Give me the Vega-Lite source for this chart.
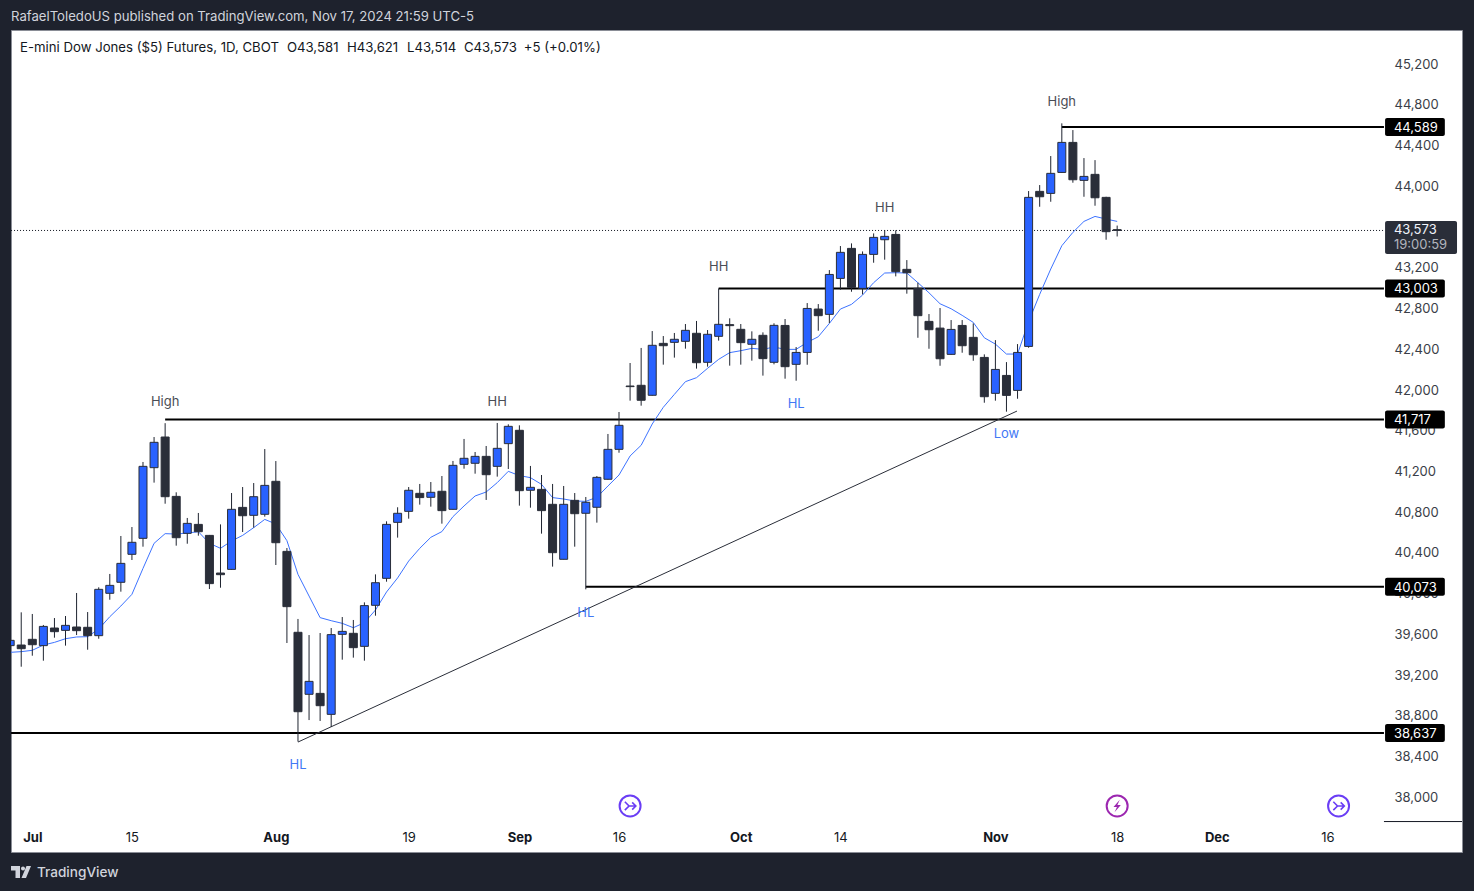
{
"$schema":"https://vega.github.io/schema/vega-lite/v6.json",
"autosize":{"type":"none"},
"padding":{"left":11,"top":30,"right":12,"bottom":39},
"width":1451,"height":822,
"background":"#1e222d",
"view":{"fill":"#ffffff","stroke":"#8a8d96","strokeWidth":1},
"title":{"text":"RafaelToledoUS published on TradingView.com, Nov 17, 2024 21:59 UTC-5","anchor":"start","frame":"group","color":"#d1d4dc","fontSize":13.15,"fontWeight":"normal","font":"Inter","offset":6},
"config":{"font":"Inter","text":{"font":"Inter"},"scale":{"continuousPadding":0}},
"datasets":{
"candles":[
{"bar":-2,"open":39495,"high":39547,"low":39495,"close":39547,"ema":39429},
{"bar":-1,"open":39501,"high":39822,"low":39288,"close":39465,"ema":39436},
{"bar":0,"open":39557,"high":39806,"low":39396,"close":39504,"ema":39449},
{"bar":1,"open":39495,"high":39698,"low":39347,"close":39684,"ema":39501},
{"bar":2,"open":39668,"high":39766,"low":39573,"close":39632,"ema":39527},
{"bar":3,"open":39645,"high":39786,"low":39495,"close":39694,"ema":39563},
{"bar":4,"open":39678,"high":40012,"low":39599,"close":39642,"ema":39580},
{"bar":5,"open":39675,"high":39825,"low":39455,"close":39593,"ema":39583},
{"bar":6,"open":39593,"high":40068,"low":39563,"close":40048,"ema":39658},
{"bar":7,"open":40009,"high":40199,"low":39946,"close":40087,"ema":39779},
{"bar":8,"open":40117,"high":40572,"low":40025,"close":40303,"ema":39884},
{"bar":9,"open":40392,"high":40660,"low":40336,"close":40510,"ema":39999},
{"bar":10,"open":40549,"high":41299,"low":40467,"close":41256,"ema":40254},
{"bar":11,"open":41243,"high":41544,"low":41096,"close":41492,"ema":40500},
{"bar":12,"open":41544,"high":41680,"low":40889,"close":40958,"ema":40595},
{"bar":13,"open":40961,"high":41001,"low":40477,"close":40555,"ema":40591},
{"bar":14,"open":40598,"high":40749,"low":40496,"close":40696,"ema":40601},
{"bar":15,"open":40686,"high":40798,"low":40575,"close":40614,"ema":40614},
{"bar":16,"open":40578,"high":40582,"low":40051,"close":40104,"ema":40500},
{"bar":17,"open":40208,"high":40686,"low":40064,"close":40192,"ema":40451},
{"bar":18,"open":40244,"high":40994,"low":40241,"close":40834,"ema":40523},
{"bar":19,"open":40853,"high":41053,"low":40611,"close":40771,"ema":40578},
{"bar":20,"open":40775,"high":41092,"low":40654,"close":40958,"ema":40654},
{"bar":21,"open":40785,"high":41426,"low":40762,"close":41069,"ema":40735},
{"bar":22,"open":41109,"high":41308,"low":40287,"close":40506,"ema":40690},
{"bar":23,"open":40421,"high":40454,"low":39521,"close":39878,"ema":40526},
{"bar":24,"open":39626,"high":39757,"low":38552,"close":38846,"ema":40195},
{"bar":25,"open":39017,"high":39599,"low":38764,"close":39144,"ema":39982},
{"bar":26,"open":39026,"high":39619,"low":38755,"close":38905,"ema":39770},
{"bar":27,"open":38820,"high":39668,"low":38696,"close":39603,"ema":39740},
{"bar":28,"open":39606,"high":39776,"low":39357,"close":39635,"ema":39714},
{"bar":29,"open":39616,"high":39747,"low":39377,"close":39475,"ema":39671},
{"bar":30,"open":39488,"high":39920,"low":39347,"close":39888,"ema":39721},
{"bar":31,"open":39891,"high":40195,"low":39789,"close":40113,"ema":39845},
{"bar":32,"open":40156,"high":40716,"low":40123,"close":40686,"ema":40022},
{"bar":33,"open":40706,"high":40854,"low":40556,"close":40795,"ema":40160},
{"bar":34,"open":40814,"high":41053,"low":40742,"close":41021,"ema":40326},
{"bar":35,"open":40991,"high":41083,"low":40880,"close":40949,"ema":40451},
{"bar":36,"open":40952,"high":41102,"low":40860,"close":41001,"ema":40559},
{"bar":37,"open":41011,"high":41161,"low":40693,"close":40821,"ema":40615},
{"bar":38,"open":40834,"high":41309,"low":40831,"close":41266,"ema":40762},
{"bar":39,"open":41276,"high":41525,"low":41233,"close":41335,"ema":40867},
{"bar":40,"open":41286,"high":41397,"low":41184,"close":41354,"ema":40965},
{"bar":41,"open":41354,"high":41456,"low":40926,"close":41174,"ema":41004},
{"bar":42,"open":41256,"high":41682,"low":41155,"close":41433,"ema":41096},
{"bar":43,"open":41479,"high":41669,"low":41230,"close":41649,"ema":41207},
{"bar":44,"open":41610,"high":41659,"low":40870,"close":41017,"ema":41165},
{"bar":45,"open":41021,"high":41260,"low":40850,"close":41050,"ema":41145},
{"bar":46,"open":41030,"high":41171,"low":40595,"close":40821,"ema":41079},
{"bar":47,"open":40883,"high":41083,"low":40271,"close":40408,"ema":40949},
{"bar":48,"open":40343,"high":41063,"low":40343,"close":40883,"ema":40935},
{"bar":49,"open":40922,"high":40994,"low":40467,"close":40791,"ema":40916},
{"bar":50,"open":40795,"high":40955,"low":40048,"close":40903,"ema":40912},
{"bar":51,"open":40854,"high":41161,"low":40703,"close":41148,"ema":40952},
{"bar":52,"open":41129,"high":41574,"low":41126,"close":41423,"ema":41063},
{"bar":53,"open":41423,"high":41790,"low":41390,"close":41659,"ema":41171},
{"bar":54,"open":42045,"high":42271,"low":41901,"close":42039,"ema":41358},
{"bar":55,"open":42052,"high":42419,"low":41852,"close":41905,"ema":41463},
{"bar":56,"open":41954,"high":42585,"low":41951,"close":42445,"ema":41672},
{"bar":57,"open":42464,"high":42536,"low":42255,"close":42441,"ema":41836},
{"bar":58,"open":42474,"high":42566,"low":42324,"close":42504,"ema":41963},
{"bar":59,"open":42484,"high":42654,"low":42412,"close":42592,"ema":42088},
{"bar":60,"open":42563,"high":42684,"low":42216,"close":42274,"ema":42127},
{"bar":61,"open":42278,"high":42595,"low":42235,"close":42553,"ema":42219},
{"bar":62,"open":42533,"high":43003,"low":42491,"close":42651,"ema":42307},
{"bar":63,"open":42648,"high":42710,"low":42245,"close":42638,"ema":42373},
{"bar":64,"open":42602,"high":42654,"low":42255,"close":42471,"ema":42392},
{"bar":65,"open":42455,"high":42582,"low":42294,"close":42504,"ema":42415},
{"bar":66,"open":42543,"high":42572,"low":42147,"close":42314,"ema":42405},
{"bar":67,"open":42278,"high":42661,"low":42258,"close":42641,"ema":42428},
{"bar":68,"open":42640,"high":42703,"low":42117,"close":42235,"ema":42405},
{"bar":69,"open":42258,"high":42428,"low":42097,"close":42375,"ema":42405},
{"bar":70,"open":42375,"high":42860,"low":42254,"close":42807,"ema":42474},
{"bar":71,"open":42801,"high":42850,"low":42588,"close":42736,"ema":42529},
{"bar":72,"open":42749,"high":43184,"low":42663,"close":43141,"ema":42660},
{"bar":73,"open":43102,"high":43420,"low":42991,"close":43358,"ema":42801},
{"bar":74,"open":43397,"high":43446,"low":42971,"close":43014,"ema":42847},
{"bar":75,"open":43004,"high":43367,"low":42945,"close":43338,"ema":42938},
{"bar":76,"open":43338,"high":43544,"low":43256,"close":43505,"ema":43060},
{"bar":77,"open":43482,"high":43577,"low":43286,"close":43515,"ema":43155},
{"bar":78,"open":43534,"high":43574,"low":43122,"close":43168,"ema":43158},
{"bar":79,"open":43191,"high":43282,"low":42952,"close":43158,"ema":43155},
{"bar":80,"open":43004,"high":43060,"low":42519,"close":42736,"ema":43060},
{"bar":81,"open":42680,"high":42752,"low":42411,"close":42598,"ema":42961},
{"bar":82,"open":42614,"high":42811,"low":42244,"close":42313,"ema":42853},
{"bar":83,"open":42356,"high":42693,"low":42353,"close":42601,"ema":42804},
{"bar":84,"open":42640,"high":42693,"low":42372,"close":42441,"ema":42739},
{"bar":85,"open":42523,"high":42660,"low":42293,"close":42352,"ema":42670},
{"bar":86,"open":42326,"high":42356,"low":41881,"close":41940,"ema":42519},
{"bar":87,"open":41973,"high":42496,"low":41901,"close":42208,"ema":42457},
{"bar":88,"open":42149,"high":42280,"low":41793,"close":41953,"ema":42359},
{"bar":89,"open":42002,"high":42457,"low":41920,"close":42375,"ema":42359},
{"bar":90,"open":42434,"high":43960,"low":42421,"close":43898,"ema":42677},
{"bar":91,"open":43957,"high":44019,"low":43806,"close":43904,"ema":42945},
{"bar":92,"open":43937,"high":44304,"low":43855,"close":44134,"ema":43194},
{"bar":93,"open":44143,"high":44625,"low":44140,"close":44438,"ema":43423},
{"bar":94,"open":44438,"high":44559,"low":44042,"close":44071,"ema":43554},
{"bar":95,"open":44065,"high":44284,"low":43904,"close":44104,"ema":43662},
{"bar":96,"open":44124,"high":44264,"low":43816,"close":43894,"ema":43711},
{"bar":97,"open":43898,"high":43904,"low":43482,"close":43561,"ema":43685},
{"bar":98,"open":43581,"high":43621,"low":43514,"close":43573,"ema":43662}
],
"levels":[
{"bar":93,"price":44589},
{"bar":62,"price":43003},
{"bar":12,"price":41717},
{"bar":50,"price":40073},
{"bar":-1.92,"price":38637}
],
"last":[{"bar":-1.92,"price":43573}],
"lastBox":[{"bar":122.2,"barEnd":128.7,"price":43503}],
"lastText":[{"bar":123,"price":43587,"label":"43,573","part":"price"},{"bar":123,"price":43440,"label":"19:00:59","part":"timer"}],
"trend":[{"bar":24,"price":38548},{"bar":88.95,"price":41799}],
"notes":[
{"bar":12,"price":41897,"label":"High","kind":"high"},
{"bar":42,"price":41897,"label":"HH","kind":"high"},
{"bar":62,"price":43223,"label":"HH","kind":"high"},
{"bar":77,"price":43803,"label":"HH","kind":"high"},
{"bar":93,"price":44844,"label":"High","kind":"high"},
{"bar":24,"price":38332,"label":"HL","kind":"low"},
{"bar":50,"price":39825,"label":"HL","kind":"low"},
{"bar":69,"price":41878,"label":"HL","kind":"low"},
{"bar":88,"price":41583,"label":"Low","kind":"low"}
],
"legendLine":[
{"bar":-1.11,"price":45374,"label":"E-mini Dow Jones ($5) Futures, 1D, CBOT"},
{"bar":23,"price":45374,"label":"O43,581"},
{"bar":28.43,"price":45374,"label":"H43,621"},
{"bar":33.85,"price":45374,"label":"L43,514"},
{"bar":38.99,"price":45374,"label":"C43,573"},
{"bar":44.4,"price":45374,"label":"+5 (+0.01%)"}
],
"events":[{"bar":54,"price":37920,"kind":"split"},{"bar":98,"price":37920,"kind":"dividend"},{"bar":118,"price":37920,"kind":"split"}],
"axisEdge":[{"bar":122.1,"barEnd":129.15,"price":37767}],
"brand":[{"bar":0.42,"price":37271,"label":"TradingView"}],
"brandMark":[{"bar":-1.02,"price":37271}]
},
"layer":[
{"data":{"name":"levels"},"mark":{"type":"rule","color":"#000000","strokeWidth":2},
 "encoding":{
  "x":{"field":"bar","type":"quantitative","title":null,"scale":{"domain":[-1.924,129.15],"nice":false,"zero":false},
    "axis":{"orient":"bottom","offset":-30,"values":[0,9,22,34,44,53,64,73,87,98,107,117],"labelExpr":"{'0':'Jul','9':'15','22':'Aug','34':'19','44':'Sep','53':'16','64':'Oct','73':'14','87':'Nov','98':'18','107':'Dec','117':'16'}[datum.value+'']","domain":false,"ticks":false,"grid":false,"labelPadding":9,"labelFontSize":13,"labelColor":"#131722","labelFlush":false,"labelOverlap":false,"labelFont":"Inter",
      "labelFontWeight":{"condition":{"test":"datum.value==0||datum.value==22||datum.value==44||datum.value==64||datum.value==87||datum.value==107","value":"bold"},"value":"normal"}}},
  "x2":{"datum":122.1},
  "y":{"field":"price","type":"quantitative","title":null,"scale":{"domain":[37468,45542],"nice":false,"zero":false},
    "axis":{"orient":"right","offset":-78,"values":[38000,38400,38800,39200,39600,40000,40400,40800,41200,41600,42000,42400,42800,43200,43600,44000,44400,44800,45200],"format":",d","domain":false,"ticks":false,"grid":false,"labelPadding":10,"labelOffset":-0.6,"labelFontSize":13,"labelColor":"#3a3e48","labelFont":"Inter","labelOverlap":false,"labelFlush":false}}
 }},
{"data":{"name":"last"},"mark":{"type":"rule","color":"#131722","strokeWidth":1,"strokeDash":[1,2]},
 "encoding":{"x":{"field":"bar","type":"quantitative","title":null,"scale":{"domain":[-1.924,129.15],"nice":false,"zero":false}},"x2":{"datum":122.1},"y":{"field":"price","type":"quantitative","title":null,"scale":{"domain":[37468,45542],"nice":false,"zero":false}}}},
{"data":{"name":"trend"},"mark":{"type":"line","color":"#2a2e39","strokeWidth":1,"clip":true},
 "encoding":{"x":{"field":"bar","type":"quantitative","title":null,"scale":{"domain":[-1.924,129.15],"nice":false,"zero":false}},"y":{"field":"price","type":"quantitative","title":null,"scale":{"domain":[37468,45542],"nice":false,"zero":false}}}},
{"data":{"name":"candles"},"mark":{"type":"line","color":"#3d73ff","strokeWidth":1,"clip":true},
 "encoding":{"x":{"field":"bar","type":"quantitative","title":null,"scale":{"domain":[-1.924,129.15],"nice":false,"zero":false}},"y":{"field":"ema","type":"quantitative","title":null,"scale":{"domain":[37468,45542],"nice":false,"zero":false}}}},
{"data":{"name":"candles"},"mark":{"type":"rule","color":"#1f2430","strokeWidth":1,"clip":true},
 "encoding":{"x":{"field":"bar","type":"quantitative","title":null,"scale":{"domain":[-1.924,129.15],"nice":false,"zero":false}},"y":{"field":"low","type":"quantitative","title":null,"scale":{"domain":[37468,45542],"nice":false,"zero":false}},"y2":{"field":"high"}}},
{"data":{"name":"candles"},"mark":{"type":"bar","orient":"vertical","size":8,"stroke":"#2a2e39","strokeWidth":1,"clip":true},
 "encoding":{"x":{"field":"bar","type":"quantitative","title":null,"scale":{"domain":[-1.924,129.15],"nice":false,"zero":false}},"y":{"field":"open","type":"quantitative","title":null,"scale":{"domain":[37468,45542],"nice":false,"zero":false}},"y2":{"field":"close"},
  "fill":{"condition":{"test":"datum.close>datum.open","value":"#2962ff"},"value":"#2a2e39"}}},
{"data":{"name":"notes"},"mark":{"type":"text","align":"center","baseline":"middle","fontSize":13,"dy":1,"font":"Inter"},
 "encoding":{"x":{"field":"bar","type":"quantitative","title":null,"scale":{"domain":[-1.924,129.15],"nice":false,"zero":false}},"y":{"field":"price","type":"quantitative","title":null,"scale":{"domain":[37468,45542],"nice":false,"zero":false}},"text":{"field":"label"},
  "color":{"condition":{"test":"datum.kind=='low'","value":"#4178f5"},"value":"#4a4d55"}}},
{"data":{"name":"levels"},"mark":{"type":"bar","orient":"horizontal","size":18,"cornerRadius":2,"color":"#000000"},
 "encoding":{"x":{"datum":122.2,"type":"quantitative","title":null,"scale":{"domain":[-1.924,129.15],"nice":false,"zero":false}},"x2":{"datum":127.6},"y":{"field":"price","type":"quantitative","title":null,"scale":{"domain":[37468,45542],"nice":false,"zero":false}}}},
{"data":{"name":"levels"},"mark":{"type":"text","align":"left","baseline":"middle","fontSize":13,"dy":1,"font":"Inter","color":"#ffffff"},
 "encoding":{"x":{"datum":123,"type":"quantitative","title":null,"scale":{"domain":[-1.924,129.15],"nice":false,"zero":false}},"y":{"field":"price","type":"quantitative","title":null,"scale":{"domain":[37468,45542],"nice":false,"zero":false}},"text":{"field":"price","type":"quantitative","format":",d"}}},
{"data":{"name":"lastBox"},"mark":{"type":"bar","orient":"horizontal","size":33,"cornerRadius":2,"color":"#2a2e39"},
 "encoding":{"x":{"field":"bar","type":"quantitative","title":null,"scale":{"domain":[-1.924,129.15],"nice":false,"zero":false}},"x2":{"field":"barEnd"},"y":{"field":"price","type":"quantitative","title":null,"scale":{"domain":[37468,45542],"nice":false,"zero":false}}}},
{"data":{"name":"lastText"},"mark":{"type":"text","align":"left","baseline":"middle","fontSize":13,"dy":1,"font":"Inter"},
 "encoding":{"x":{"field":"bar","type":"quantitative","title":null,"scale":{"domain":[-1.924,129.15],"nice":false,"zero":false}},"y":{"field":"price","type":"quantitative","title":null,"scale":{"domain":[37468,45542],"nice":false,"zero":false}},"text":{"field":"label"},
  "color":{"condition":{"test":"datum.part=='timer'","value":"#b2b5be"},"value":"#f0f3fa"}}},
{"data":{"name":"axisEdge"},"mark":{"type":"rule","color":"#131722","strokeWidth":1},
 "encoding":{"x":{"field":"bar","type":"quantitative","title":null,"scale":{"domain":[-1.924,129.15],"nice":false,"zero":false}},"x2":{"field":"barEnd"},"y":{"field":"price","type":"quantitative","title":null,"scale":{"domain":[37468,45542],"nice":false,"zero":false}}}},
{"data":{"name":"legendLine"},"mark":{"type":"text","align":"left","baseline":"middle","fontSize":13.2,"dy":1,"font":"Inter","color":"#131722"},
 "encoding":{"x":{"field":"bar","type":"quantitative","title":null,"scale":{"domain":[-1.924,129.15],"nice":false,"zero":false}},"y":{"field":"price","type":"quantitative","title":null,"scale":{"domain":[37468,45542],"nice":false,"zero":false}},"text":{"field":"label"}}},
{"data":{"name":"events"},"mark":{"type":"point","shape":"circle","filled":false,"size":440,"strokeWidth":2,"opacity":1},
 "encoding":{"x":{"field":"bar","type":"quantitative","title":null,"scale":{"domain":[-1.924,129.15],"nice":false,"zero":false}},"y":{"field":"price","type":"quantitative","title":null,"scale":{"domain":[37468,45542],"nice":false,"zero":false}},
  "color":{"condition":{"test":"datum.kind=='dividend'","value":"#9c27b0"},"value":"#6a3df5"}}},
{"data":{"name":"events"},"transform":[{"filter":"datum.kind=='split'"}],"mark":{"type":"point","shape":"M-0.5,-0.4 L-0.1,0 L-0.5,0.4 M-0.1,0 L0.55,0 M0.2,-0.35 L0.55,0 L0.2,0.35","filled":false,"size":440,"strokeWidth":1.6,"opacity":1,"color":"#6a3df5"},
 "encoding":{"x":{"field":"bar","type":"quantitative","title":null,"scale":{"domain":[-1.924,129.15],"nice":false,"zero":false}},"y":{"field":"price","type":"quantitative","title":null,"scale":{"domain":[37468,45542],"nice":false,"zero":false}}}},
{"data":{"name":"events"},"transform":[{"filter":"datum.kind=='dividend'"}],"mark":{"type":"point","shape":"M0.25,-0.6 L-0.35,0.1 L-0.02,0.1 L-0.25,0.6 L0.35,-0.1 L0.02,-0.1 Z","filled":true,"size":440,"opacity":1,"color":"#9c27b0"},
 "encoding":{"x":{"field":"bar","type":"quantitative","title":null,"scale":{"domain":[-1.924,129.15],"nice":false,"zero":false}},"y":{"field":"price","type":"quantitative","title":null,"scale":{"domain":[37468,45542],"nice":false,"zero":false}}}},
{"data":{"name":"brand"},"mark":{"type":"text","align":"left","baseline":"middle","fontSize":13.6,"dy":1,"fontWeight":500,"font":"Inter","color":"#d1d4dc"},
 "encoding":{"x":{"field":"bar","type":"quantitative","title":null,"scale":{"domain":[-1.924,129.15],"nice":false,"zero":false}},"y":{"field":"price","type":"quantitative","title":null,"scale":{"domain":[37468,45542],"nice":false,"zero":false}},"text":{"field":"label"}}},
{"data":{"name":"brandMark"},"mark":{"type":"point","shape":"M-1,-0.6 L-0.1,-0.6 L-0.1,0.6 L-0.55,0.6 L-0.55,-0.15 L-1,-0.15 Z M0,-0.35 A0.2,0.2 0 1 0 0.4,-0.35 A0.2,0.2 0 1 0 0,-0.35 Z M0.55,-0.6 L1,-0.6 L0.5,0.6 L0.05,0.6 Z","filled":true,"size":400,"opacity":1,"color":"#d1d4dc"},
 "encoding":{"x":{"field":"bar","type":"quantitative","title":null,"scale":{"domain":[-1.924,129.15],"nice":false,"zero":false}},"y":{"field":"price","type":"quantitative","title":null,"scale":{"domain":[37468,45542],"nice":false,"zero":false}}}}
]
}
